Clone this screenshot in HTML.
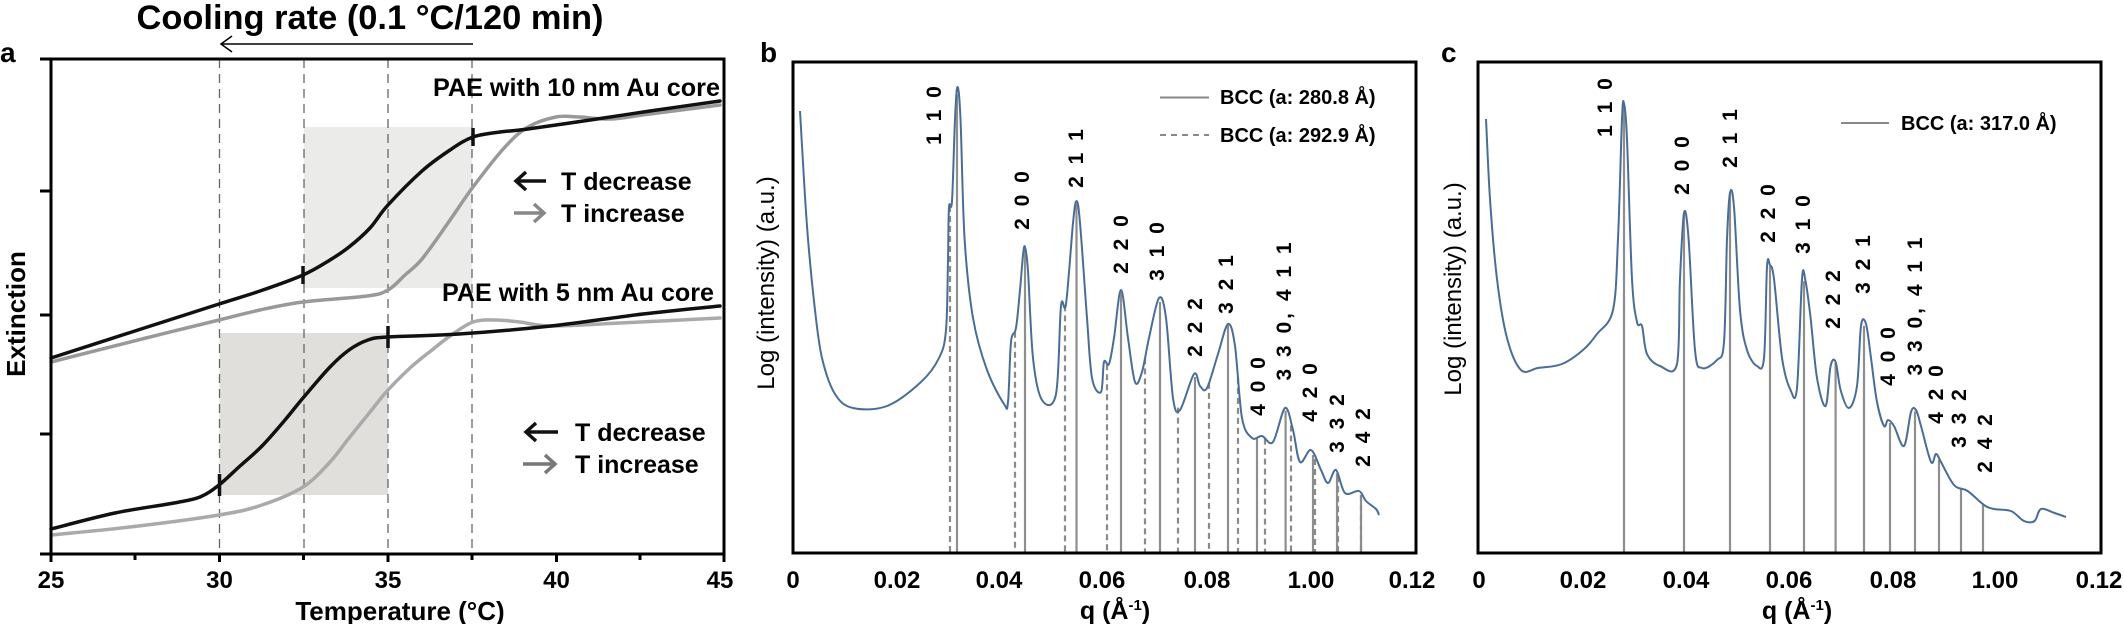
<!DOCTYPE html>
<html><head><meta charset="utf-8"><style>
html,body{margin:0;padding:0;background:#fff;}
svg{display:block;font-family:"Liberation Sans",Arial,sans-serif;font-weight:bold;}
</style></head><body>
<svg id="s" width="2124" height="624" viewBox="0 0 2124 624" xmlns="http://www.w3.org/2000/svg">
<!-- Panel a -->
<text x="0" y="62" font-size="28">a</text>
<text x="370" y="29" font-size="34" text-anchor="middle" textLength="467" lengthAdjust="spacingAndGlyphs">Cooling rate (0.1 °C/120 min)</text>
<line x1="473" y1="44" x2="222" y2="44" stroke="#000" stroke-width="1.5"/>
<polyline points="232,36 221,44 232,52" fill="none" stroke="#000" stroke-width="1.5"/>
<rect x="304" y="127" width="168" height="161" fill="#ebebe9"/>
<rect x="219.5" y="333" width="168.5" height="162" fill="#e0dfdc"/>
<g stroke="#666" stroke-width="1.3" stroke-dasharray="9,6">
<line x1="219.5" y1="59" x2="219.5" y2="554"/><line x1="304" y1="59" x2="304" y2="554"/>
<line x1="388" y1="59" x2="388" y2="554"/><line x1="472" y1="59" x2="472" y2="554"/>
</g>
<g fill="none" stroke-linejoin="round" stroke-linecap="round">
<polyline class="sm" stroke="#999" stroke-width="3.5" points="51,362 138,340 219,320 260,310 303,302 367,296 388,290 405,275 422,259 448,223 473,187 505,147 528,127 556,117 580,117 611,119 650,114 720,105"/>
<polyline class="sm" stroke="#111" stroke-width="3.5" points="51,358 138,330 219,304 260,291 303,275 330,260 349,247 370,228 388,205 422,171 450,150 473,137 500,132 528,129 597,119 650,111 720,101"/>
<polyline class="sm" stroke="#aaa" stroke-width="3.5" points="51,535 130,527 219,515 262,505 303,487 330,462 349,438 370,412 388,390 410,368 432,350 450,336 473,322 496,320 520,322 551,326 620,323 720,318"/>
<polyline class="sm" stroke="#111" stroke-width="3.5" points="51,529 115,513 174,503 200,497 219,485 240,466 262,446 285,420 303,398 330,367 349,350 368,340 388,337 459,334 551,326 643,314 720,306"/>
</g>
<g stroke="#111" stroke-width="3.5">
<line x1="303" y1="266" x2="303" y2="284"/><line x1="473" y1="128" x2="473" y2="146"/>
<line x1="388" y1="326" x2="388" y2="348"/><line x1="219.5" y1="474" x2="219.5" y2="496"/>
</g>
<g stroke="#000" stroke-width="3" fill="none">
<polyline points="51,59 724,59 724,554 51,554 51,59"/>
<line x1="40" y1="59" x2="51" y2="59"/><line x1="40" y1="191" x2="51" y2="191"/><line x1="40" y1="315" x2="51" y2="315"/><line x1="40" y1="434" x2="51" y2="434"/><line x1="40" y1="554" x2="51" y2="554"/>
<line x1="135" y1="554" x2="135" y2="560"/><line x1="303.5" y1="554" x2="303.5" y2="560"/><line x1="472" y1="554" x2="472" y2="560"/><line x1="640" y1="554" x2="640" y2="560"/>
<line x1="219.5" y1="554" x2="219.5" y2="562"/><line x1="388" y1="554" x2="388" y2="562"/><line x1="556.5" y1="554" x2="556.5" y2="562"/><line x1="51" y1="554" x2="51" y2="562"/><line x1="724" y1="554" x2="724" y2="562"/>
</g>
<g font-size="24" text-anchor="middle">
<text x="51" y="588">25</text><text x="219.5" y="588">30</text><text x="388" y="588">35</text><text x="556.5" y="588">40</text><text x="720" y="588">45</text>
<text x="400" y="620" font-size="26">Temperature (°C)</text>
<text transform="translate(25,314) rotate(-90)" font-size="26">Extinction</text>
</g>
<g font-size="25">
<text x="433" y="96" textLength="287" lengthAdjust="spacingAndGlyphs">PAE with 10 nm Au core</text>
<text x="442" y="301" textLength="272" lengthAdjust="spacingAndGlyphs">PAE with 5 nm Au core</text>
</g>
<g font-size="25">
<text x="561" y="190">T decrease</text><text x="561" y="222">T increase</text>
<text x="575" y="441">T decrease</text><text x="575" y="473">T increase</text>
</g>
<g fill="none" stroke-width="3.5">
<line x1="516" y1="181" x2="546" y2="181" stroke="#111"/><polyline points="526,172 516,181 526,190" stroke="#111"/>
<line x1="514" y1="213" x2="544" y2="213" stroke="#888"/><polyline points="534,204 544,213 534,222" stroke="#888"/>
<line x1="526" y1="432" x2="558" y2="432" stroke="#111"/><polyline points="536,423 526,432 536,441" stroke="#111"/>
<line x1="523" y1="464" x2="555" y2="464" stroke="#777"/><polyline points="545,455 555,464 545,473" stroke="#777"/>
</g>

<!-- Panel b -->
<text x="760" y="62" font-size="28">b</text>
<g id="bl"></g>
<polyline id="cb" class="sm" fill="none" stroke="#4a6d96" stroke-width="2" stroke-linejoin="round" points="800,111 804,180 808,239 815,310 822,358 835,394 853,408 887,406 921,382 939,358 946,330 948,260 949,207 952,201 955,119 957.5,87 960.5,119 964.6,239 973,318 987,370 1004,404 1008,402 1011,342 1016,328 1020,290 1023,255 1025,247 1028,271 1033,358 1042,400 1056,394 1061,306 1066,304 1073,223 1076.5,201 1080,223 1087,318 1092,378 1101,392 1104,362 1109,364 1114,338 1121,290 1128,338 1135,382 1142,372 1149,338 1159,298 1166,318 1173,398 1180,410 1194,374 1200,386 1207,388 1218,354 1228,324 1235,346 1242,418 1252,438 1262,436 1273,442 1285,408 1293,430 1300,462 1311,450 1321,470 1328,483 1336,470 1345,493 1359,491 1366,501 1376,509 1379,515"/>
<rect x="793" y="62" width="623" height="491" fill="none" stroke="#000" stroke-width="3"/>
<g font-size="24" text-anchor="middle">
<text x="793" y="588">0</text><text x="897" y="588">0.02</text><text x="999" y="588">0.04</text><text x="1102" y="588">0.06</text><text x="1207" y="588">0.08</text><text x="1311" y="588">1.00</text><text x="1412" y="588">0.12</text>
<text x="1115" y="619" font-size="25">q (Å<tspan font-size="15" dy="-9">-1</tspan><tspan dy="9">)</tspan></text>
<text transform="translate(774,283) rotate(-90)" font-size="24" font-weight="normal">Log (intensity) (a.u.)</text>
</g>
<g font-size="20" font-weight="bold">
<line x1="1160" y1="97.5" x2="1209" y2="97.5" stroke="#888" stroke-width="2"/>
<line x1="1160" y1="135" x2="1209" y2="135" stroke="#888" stroke-width="2" stroke-dasharray="6,5"/>
<text x="1220" y="104">BCC (a: 280.8 Å)</text><text x="1220" y="142">BCC (a: 292.9 Å)</text>
</g>
<g id="lb" font-size="21" letter-spacing="3" text-anchor="middle"></g>

<!-- Panel c -->
<text x="1441" y="62" font-size="28">c</text>
<g id="cl"></g>
<polyline id="cc" class="sm" fill="none" stroke="#4a6d96" stroke-width="2" stroke-linejoin="round" points="1486,119 1490,199 1497,279 1507,338 1521,370 1538,368 1562,364 1583,350 1597,334 1613,310 1618,239 1622,119 1624,103.5 1627,139 1632,279 1637,322 1642,326 1647,354 1660,366 1677,364 1680,279 1684,213 1688.6,239 1695,350 1702,368 1717,360 1724,342 1727,239 1730,193 1734,207 1740,310 1747,350 1757,366 1764,358 1767,267 1770,265 1774,279 1782,358 1790.5,390 1797,388 1802,279 1805.5,281 1810.6,318 1817,378 1825.6,406 1830.6,366 1835.6,362 1840.6,390 1849,408 1857,386 1861,326 1866,324 1871,358 1877,402 1884,426 1888,420 1894,426 1904,446 1911,412 1916,410 1921,426 1931,462 1936,454 1941,462 1954,485 1967.6,491 1984,505 1994,509 2011,511 2024,521 2034.5,521 2041,509 2054.5,513 2066,517"/>
<rect x="1478" y="62" width="623" height="491" fill="none" stroke="#000" stroke-width="3"/>
<g font-size="24" text-anchor="middle">
<text x="1479" y="588">0</text><text x="1583" y="588">0.02</text><text x="1686" y="588">0.04</text><text x="1789" y="588">0.06</text><text x="1893" y="588">0.08</text><text x="1995" y="588">1.00</text><text x="2099" y="588">0.12</text>
<text x="1797" y="619" font-size="25">q (Å<tspan font-size="15" dy="-9">-1</tspan><tspan dy="9">)</tspan></text>
<text transform="translate(1461,289) rotate(-90)" font-size="24" font-weight="normal">Log (intensity) (a.u.)</text>
</g>
<line x1="1841" y1="123" x2="1889" y2="123" stroke="#888" stroke-width="2"/>
<text x="1901" y="130" font-size="20">BCC (a: 317.0 Å)</text>
<g id="lc" font-size="21" letter-spacing="3" text-anchor="middle"></g>
</svg>
<script>
(function(){
var NS="http://www.w3.org/2000/svg";
function parse(el){return el.getAttribute("points").trim().split(/\s+/).map(function(p){var a=p.split(",");return [+a[0],+a[1]];});}
function pts(id){return parse(document.getElementById(id));}
function yAt(P,x){for(var i=0;i<P.length-1;i++){if(x>=P[i][0]&&x<=P[i+1][0]){var t=(x-P[i][0])/(P[i+1][0]-P[i][0]);return P[i][1]+t*(P[i+1][1]-P[i][1]);}}return P[P.length-1][1];}
function lines(g,P,xs,dash){var G=document.getElementById(g);xs.forEach(function(x){var l=document.createElementNS(NS,"line");l.setAttribute("x1",x);l.setAttribute("x2",x);l.setAttribute("y1",yAt(P,x)+1);l.setAttribute("y2",553);l.setAttribute("stroke",dash?"#8a8a8a":"#8e8e8e");l.setAttribute("stroke-width","2.2");if(dash)l.setAttribute("stroke-dasharray","6,4");G.appendChild(l);});}
function labels(g,L){var G=document.getElementById(g);L.forEach(function(o){var t=document.createElementNS(NS,"text");t.setAttribute("transform","translate("+(o[0]+8)+","+o[1]+") rotate(-90)");t.textContent=o[2];G.appendChild(t);});}
var B=pts("cb"),C=pts("cc");
lines("bl",B,[957,1025,1076.5,1121,1160,1195,1228,1257,1285.6,1313,1337,1361],false);
lines("bl",B,[950,1015,1065,1107,1145,1178,1209,1238,1265,1291,1315,1338,1361],true);
lines("cl",C,[1624,1684,1730,1770,1804,1835.6,1864,1890,1915,1939,1961,1983],false);
labels("lb",[[933,114,"1 1 0"],[1021,199,"2 0 0"],[1075,157,"2 1 1"],[1120,243,"2 2 0"],[1156,250,"3 1 0"],[1194,326,"2 2 2"],[1225,283,"3 2 1"],[1257,385,"4 0 0"],[1283,310,"3 3 0, 4 1 1"],[1309,391,"4 2 0"],[1336,422,"3 3 2"],[1362,436,"2 4 2"]]);
labels("lc",[[1604,106,"1 1 0"],[1681,164,"2 0 0"],[1729,137,"2 1 1"],[1767,212,"2 2 0"],[1802,223,"3 1 0"],[1832,298,"2 2 2"],[1862,263,"3 2 1"],[1887,355,"4 0 0"],[1914,305,"3 3 0, 4 1 1"],[1935,393,"4 2 0"],[1958,417,"3 3 2"],[1984,442,"2 4 2"]]);
Array.prototype.forEach.call(document.querySelectorAll("polyline.sm"),function(el){
var P=parse(el),d="M"+P[0][0]+","+P[0][1];
for(var i=0;i<P.length-1;i++){var p0=P[i-1]||P[i],p1=P[i],p2=P[i+1],p3=P[i+2]||p2;var k=1/6;
var c1x=p1[0]+(p2[0]-p0[0])*k,c1y=p1[1]+(p2[1]-p0[1])*k,c2x=p2[0]-(p3[0]-p1[0])*k,c2y=p2[1]-(p3[1]-p1[1])*k;
c1x=Math.min(Math.max(c1x,p1[0]),p2[0]);c2x=Math.min(Math.max(c2x,p1[0]),p2[0]);
d+=" C"+c1x.toFixed(1)+","+c1y.toFixed(1)+" "+c2x.toFixed(1)+","+c2y.toFixed(1)+" "+p2[0]+","+p2[1];}
var path=document.createElementNS(NS,"path");
["fill","stroke","stroke-width","stroke-linejoin","stroke-linecap"].forEach(function(a){var v=el.getAttribute(a);if(v)path.setAttribute(a,v);});
if(!path.getAttribute("fill"))path.setAttribute("fill","none");
if(!path.getAttribute("stroke-linejoin"))path.setAttribute("stroke-linejoin","round");
path.setAttribute("d",d);el.parentNode.replaceChild(path,el);});
})();
</script>
</body></html>
